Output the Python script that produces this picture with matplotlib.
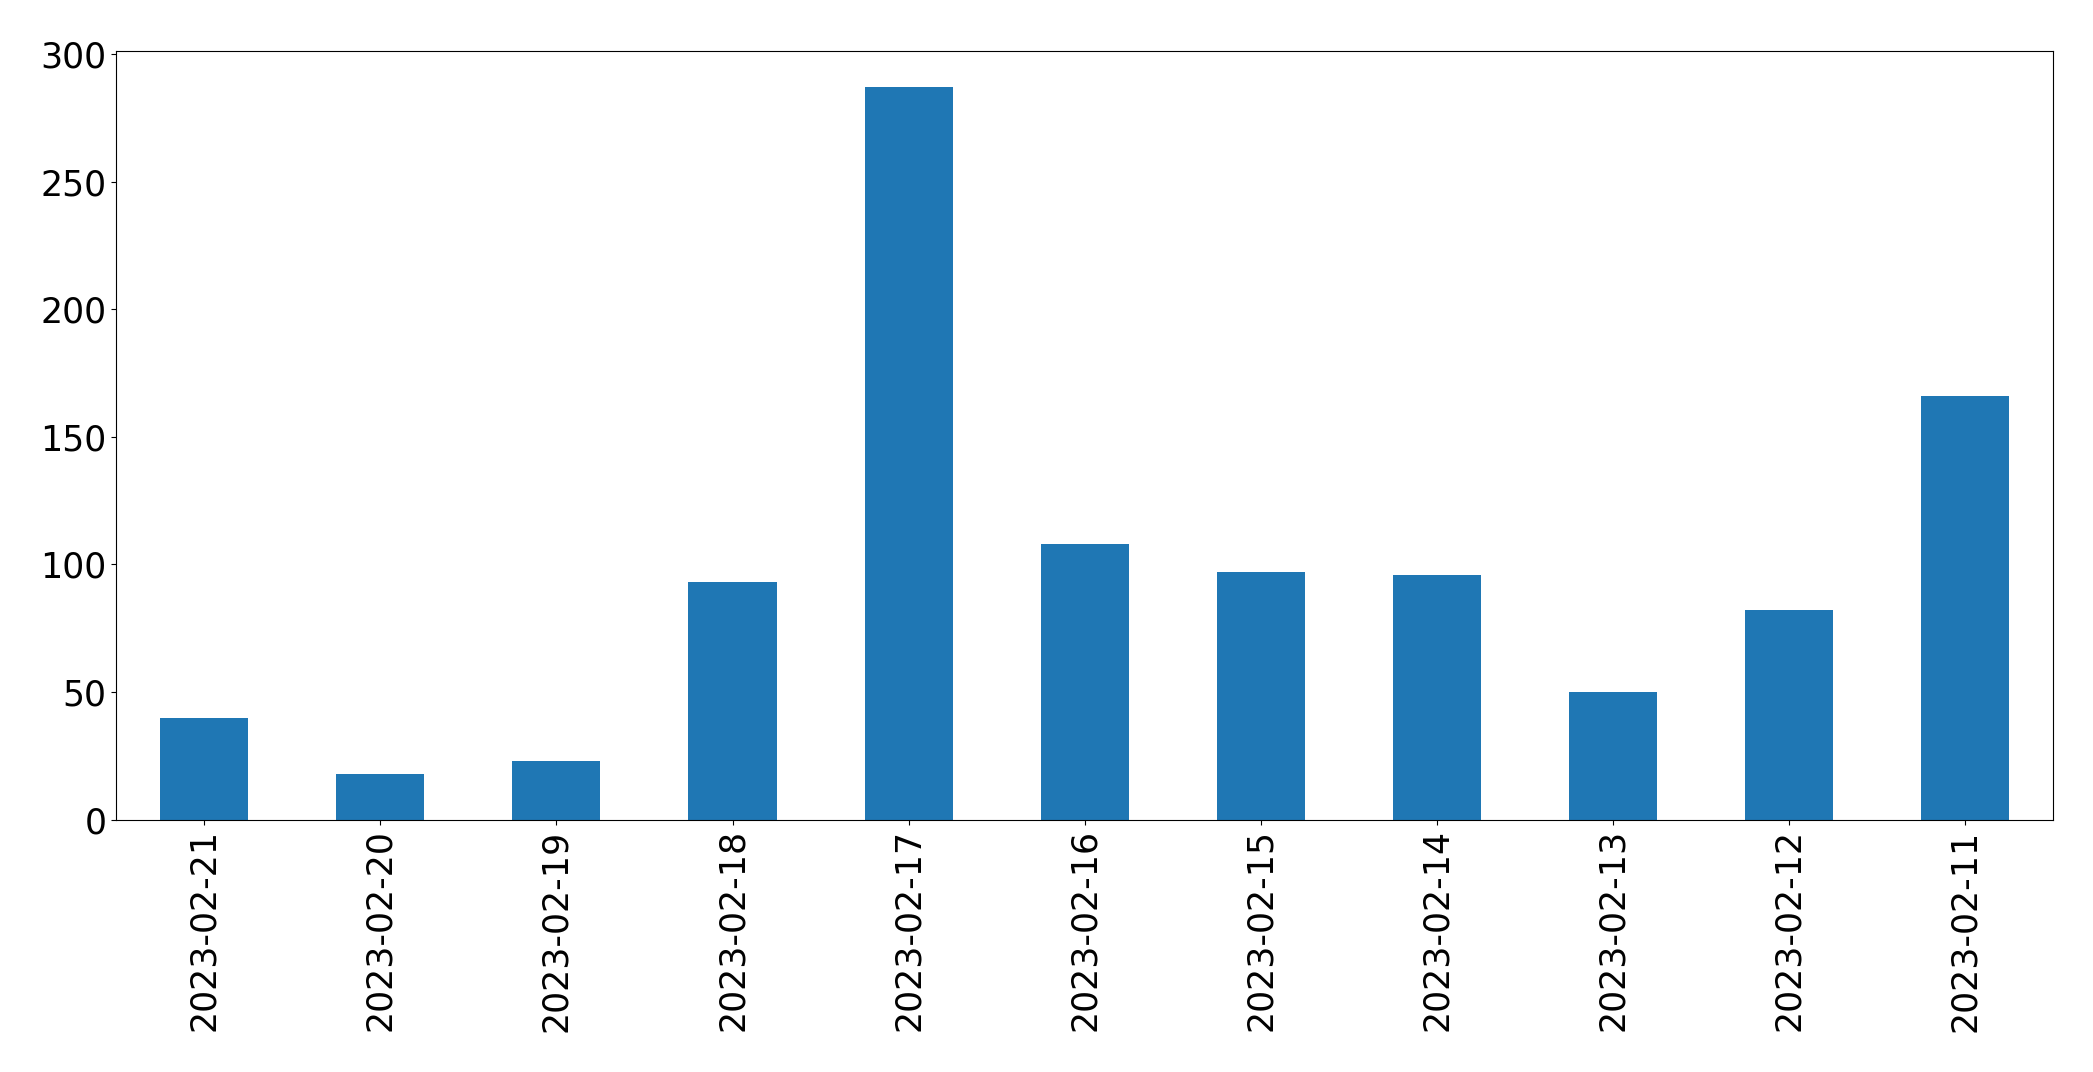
import matplotlib
matplotlib.use("Agg")
import matplotlib.pyplot as plt

dates = ["2023-02-21", "2023-02-20", "2023-02-19", "2023-02-18", "2023-02-17",
         "2023-02-16", "2023-02-15", "2023-02-14", "2023-02-13", "2023-02-12",
         "2023-02-11"]
counts = [40, 18, 23, 93, 287, 108, 97, 96, 50, 82, 166]

fig = plt.figure(figsize=(20.93, 10.72), dpi=100)
ax = fig.add_axes([0.0555, 0.2354, 0.9255, 0.7173])
x = list(range(len(dates)))
ax.bar(x, counts, width=0.5, color="#1f77b4")
ax.set_xlim(-0.5, len(dates) - 0.5)
ax.set_ylim(0, max(counts) * 1.05)
ax.set_yticks([0, 50, 100, 150, 200, 250, 300])
ax.set_xticks(x)
ax.set_xticklabels(dates, rotation=90)
ax.tick_params(axis="both", labelsize=25)
fig.savefig("out.png", dpi=100)
